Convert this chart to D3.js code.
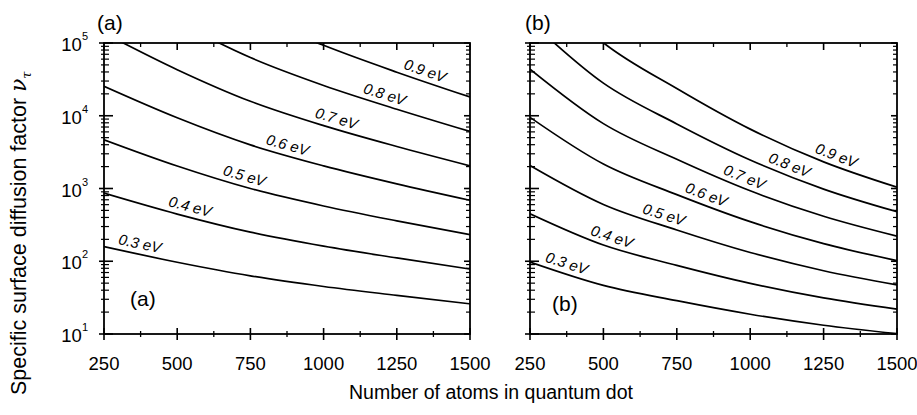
<!DOCTYPE html>
<html><head><meta charset="utf-8">
<script src="https://cdn.jsdelivr.net/npm/d3@7/dist/d3.min.js"></script>
<style>
body{margin:0;background:#fff}
svg{display:block}
text{font-family:"Liberation Sans",Arial,Helvetica,sans-serif;fill:#000}
</style>
</head><body>
<svg id="chart" width="917" height="415"></svg>
<script>
// ---- data ----
const atoms = [250, 500, 750, 1000, 1250, 1500];
const energyLabels = ["0.3 eV", "0.4 eV", "0.5 eV", "0.6 eV", "0.7 eV", "0.8 eV", "0.9 eV"];
const xTickValues = [250, 500, 750, 1000, 1250, 1500];
const yTickExponents = [1, 2, 3, 4, 5];

// panel (a)
const a03 = [159, 97, 63, 45, 34, 26];
const a04 = [863, 445, 251, 161, 111, 78];
const a05 = [4680, 2040, 1000, 575, 359, 232];
const a06 = [25400, 9380, 3980, 2050, 1160, 689];
const a07 = [137000, 43000, 15800, 7310, 3780, 2050];
const a08 = [745000, 198000, 63100, 26100, 12300, 6080];
const a09 = [4040000, 908000, 251000, 92900, 39700, 18100];
// panel (b)
const b03 = [97.5, 46.6, 28.7, 18.7, 13.2, 10.1];
const b04 = [449, 167, 87.9, 49.7, 31.3, 21.9];
const b05 = [2070, 603, 269, 132, 74.1, 47.3];
const b06 = [9510, 2170, 824, 350, 175, 102];
const b07 = [43800, 7800, 2520, 929, 415, 221];
const b08 = [201000, 28050, 7730, 2470, 982, 479];
const b09 = [927000, 100900, 23700, 6550, 2320, 1040];

// where along each curve its label sits (number of atoms)
const labelAtomsA = [365, 535, 720, 867, 1034, 1198, 1335];
const labelAtomsB = [364, 518, 695, 838, 967, 1121, 1281];

// ---- layout ----
const svg = d3.select("#chart");
const plotTop = 43, plotBottom = 334;

function drawPanel(opts) {
  const x = d3.scaleLinear().domain([250, 1500]).range([opts.x0, opts.x1]);
  const y = d3.scaleLog().domain([10, 1e5]).range([plotBottom, plotTop]);
  const g = svg.append("g");
  const clipId = "clip" + opts.id;
  svg.append("clipPath").attr("id", clipId).append("rect")
    .attr("x", opts.x0).attr("y", plotTop).attr("width", opts.x1 - opts.x0).attr("height", plotBottom - plotTop);

  const line = d3.line().x((d, i) => x(atoms[i])).y(d => y(d)).curve(d3.curveMonotoneX);
  const curves = g.append("g").attr("clip-path", `url(#${clipId})`);
  opts.series.forEach((s, k) => {
    const p = curves.append("path").attr("d", line(s))
      .attr("fill", "none").attr("stroke", "#000").attr("stroke-width", 1.7);
    const node = p.node();
    const L = node.getTotalLength();
    const tx = x(opts.labelAtoms[k]);
    let lo = 0, hi = L;
    for (let it = 0; it < 40; it++) {
      const mid = (lo + hi) / 2;
      if (node.getPointAtLength(mid).x < tx) lo = mid; else hi = mid;
    }
    const pt = node.getPointAtLength(lo);
    const p1 = node.getPointAtLength(Math.max(0, lo - 8));
    const p2 = node.getPointAtLength(Math.min(L, lo + 8));
    const th = Math.atan2(p2.y - p1.y, p2.x - p1.x);
    const off = 11;
    const lx = pt.x + off * Math.sin(th), ly = pt.y - off * Math.cos(th);
    g.append("text").text(energyLabels[k])
      .attr("transform", `translate(${lx},${ly}) rotate(${th * 180 / Math.PI})`)
      .attr("text-anchor", "middle").attr("dominant-baseline", "central")
      .attr("font-style", "italic").attr("font-size", 15);
  });

  const ax = svg.append("g").attr("stroke", "#000").attr("fill", "none");
  ax.append("rect").attr("x", opts.x0).attr("y", plotTop).attr("width", opts.x1 - opts.x0)
    .attr("height", plotBottom - plotTop).attr("stroke-width", 1.8);

  const majors = yTickExponents.map(e => Math.pow(10, e));
  y.ticks().forEach(v => {
    const isMajor = majors.some(m => Math.abs(m - v) / m < 1e-9);
    const yy = y(v);
    ax.append("line").attr("x1", opts.x0 - (isMajor ? 5 : 3)).attr("x2", opts.x0 + (isMajor ? 9 : 5))
      .attr("y1", yy).attr("y2", yy).attr("stroke-width", isMajor ? 1.6 : 1.2);
    ax.append("line").attr("x1", opts.x1).attr("x2", opts.x1 - (isMajor ? 6 : 4))
      .attr("y1", yy).attr("y2", yy).attr("stroke-width", isMajor ? 1.6 : 1.2);
  });
  const minorX = d3.range(375, 1500, 250);
  xTickValues.forEach(v => {
    const xx = x(v);
    ax.append("line").attr("x1", xx).attr("x2", xx).attr("y1", plotBottom - 6).attr("y2", plotBottom + 6).attr("stroke-width", 1.6);
    ax.append("line").attr("x1", xx).attr("x2", xx).attr("y1", plotTop).attr("y2", plotTop + 7).attr("stroke-width", 1.6);
  });
  minorX.forEach(v => {
    const xx = x(v);
    ax.append("line").attr("x1", xx).attr("x2", xx).attr("y1", plotBottom - 3).attr("y2", plotBottom + 3).attr("stroke-width", 1.3);
    ax.append("line").attr("x1", xx).attr("x2", xx).attr("y1", plotTop).attr("y2", plotTop + 4).attr("stroke-width", 1.3);
  });

  xTickValues.forEach(v => {
    svg.append("text").attr("x", x(v)).attr("y", plotBottom + 36).attr("text-anchor", "middle")
      .attr("font-size", 18.5).text(v);
  });
  if (opts.yLabels) {
    yTickExponents.forEach(e => {
      const t = svg.append("text").attr("x", opts.x0 - 16).attr("y", y(Math.pow(10, e)) + 8)
        .attr("text-anchor", "end").attr("font-size", 18.5);
      t.append("tspan").text("10");
      t.append("tspan").attr("font-size", 11).attr("dy", -11).text(e);
    });
  }
  svg.append("text").attr("x", opts.tagX).attr("y", 30).attr("font-size", 21).text(opts.tag);
  svg.append("text").attr("x", opts.innerX).attr("y", opts.innerY).attr("font-size", 21).text(opts.tag);
}

drawPanel({id: "a", x0: 104, x1: 470, series: [a03, a04, a05, a06, a07, a08, a09], labelAtoms: labelAtomsA,
  yLabels: true, tag: "(a)", tagX: 97, innerX: 130, innerY: 306});
drawPanel({id: "b", x0: 530, x1: 897, series: [b03, b04, b05, b06, b07, b08, b09], labelAtoms: labelAtomsB,
  yLabels: false, tag: "(b)", tagX: 525, innerX: 552, innerY: 311});

svg.append("text").attr("x", 491).attr("y", 399).attr("text-anchor", "middle")
  .attr("font-size", 19.5).text("Number of atoms in quantum dot");
const yt = svg.append("text").attr("transform", "translate(26,395) rotate(-90)")
  .attr("text-anchor", "start").attr("font-size", 21.5);
yt.append("tspan").text("Specific surface diffusion factor ");
yt.append("tspan").attr("font-style", "italic").attr("font-family", "DejaVu Serif, serif").text("ν");
yt.append("tspan").attr("font-style", "italic").attr("font-size", 13).attr("dy", 5).attr("font-family", "DejaVu Serif, serif").text("τ");
</script>
</body></html>
